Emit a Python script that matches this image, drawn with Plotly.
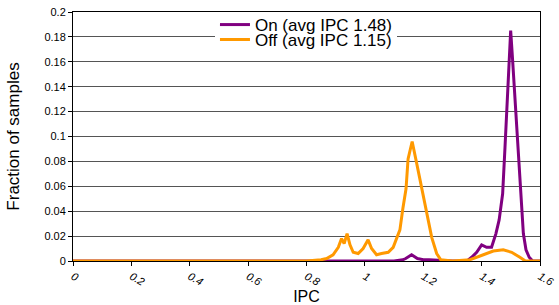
import plotly.graph_objects as go

# IPC histogram (fraction of samples)
on_ipc = [0.0, 0.5, 1.0, 1.10, 1.13, 1.14, 1.16, 1.18, 1.20, 1.22, 1.30, 1.35, 1.366, 1.383,
          1.400, 1.417, 1.434, 1.449, 1.460, 1.472, 1.480, 1.491, 1.4995, 1.506, 1.522,
          1.534, 1.543, 1.552, 1.563, 1.575, 1.6]
on_val = [0.0, 0.0, 0.0, 0.0, 0.001, 0.002, 0.005, 0.002, 0.001, 0.001, 0.0, 0.0, 0.003, 0.007,
          0.013, 0.011, 0.011, 0.022, 0.033, 0.054, 0.091, 0.143, 0.185, 0.162, 0.105,
          0.054, 0.022, 0.009, 0.003, 0.0, 0.0]

off_ipc = [0.0, 0.5, 0.80, 0.85, 0.869, 0.891, 0.909, 0.920, 0.929, 0.939, 0.949, 0.960,
           0.977, 0.994, 1.011, 1.023, 1.040, 1.057, 1.074, 1.080, 1.097, 1.109, 1.120,
           1.130, 1.141, 1.148, 1.162, 1.177, 1.189, 1.202, 1.215, 1.229, 1.246, 1.26,
           1.30, 1.36, 1.406, 1.44, 1.474, 1.503, 1.531, 1.55, 1.6]
off_val = [0.0, 0.0, 0.0, 0.001, 0.002, 0.005, 0.011, 0.018, 0.014, 0.022, 0.013, 0.007,
           0.006, 0.010, 0.017, 0.010, 0.005, 0.006, 0.007, 0.007, 0.011, 0.018, 0.025,
           0.042, 0.058, 0.082, 0.096, 0.079, 0.065, 0.049, 0.033, 0.019, 0.006, 0.001,
           0.0, 0.001, 0.005, 0.008, 0.009, 0.007, 0.003, 0.0, 0.0]

series_names = ["On (avg IPC 1.48)", "Off (avg IPC 1.15)"]
x_ticks = [0, 0.2, 0.4, 0.6, 0.8, 1, 1.2, 1.4, 1.6]
y_ticks = [0, 0.02, 0.04, 0.06, 0.08, 0.1, 0.12, 0.14, 0.16, 0.18, 0.2]

FONT = "Liberation Sans, Arial, sans-serif"

fig = go.Figure()
# "On" uses legend2 (drawn last, transparent) so it sits above the white box of "Off"
fig.add_trace(go.Scatter(x=on_ipc, y=on_val, name=series_names[0], mode="lines",
                         line=dict(color="#800080", width=3), legend="legend2"))
fig.add_trace(go.Scatter(x=off_ipc, y=off_val, name=series_names[1], mode="lines",
                         line=dict(color="#FF9900", width=3), legend="legend"))

leg_common = dict(xanchor="left", yanchor="top", borderwidth=0, itemwidth=30,
                  font=dict(size=17, family=FONT), itemclick=False)

fig.update_layout(
    width=559, height=305,
    margin=dict(l=73, r=19, t=12, b=44, autoexpand=False),
    paper_bgcolor="white", plot_bgcolor="white",
    font=dict(family=FONT, color="black"),
    showlegend=True,
    legend=dict(x=0.304, y=0.96, bgcolor="white", **leg_common),
    legend2=dict(x=0.304, y=1.02, bgcolor="rgba(0,0,0,0)", **leg_common),
)
fig.update_xaxes(
    range=[0, 1.6], tickvals=x_ticks, ticktext=[str(v) for v in x_ticks],
    tickangle=30, tickfont=dict(size=11, style="italic"),
    ticks="outside", ticklen=4, tickcolor="black",
    showline=True, linecolor="black", linewidth=1, mirror=True,
    showgrid=False, zeroline=False, automargin=False,
    title=dict(text="IPC", font=dict(size=16), standoff=4),
)
fig.update_yaxes(
    range=[0, 0.2], tickvals=y_ticks, ticktext=[("%g" % v) for v in y_ticks],
    tickfont=dict(size=11),
    ticks="outside", ticklen=4, tickcolor="black",
    showline=True, linecolor="black", linewidth=1, mirror=True,
    showgrid=True, gridcolor="#555555", gridwidth=1, zeroline=False, automargin=False,
    title=dict(text="Fraction of samples", font=dict(size=17), standoff=20),
)

fig.write_html("out.html", config={"displayModeBar": False},
               post_script="document.body.style.margin='0';")
